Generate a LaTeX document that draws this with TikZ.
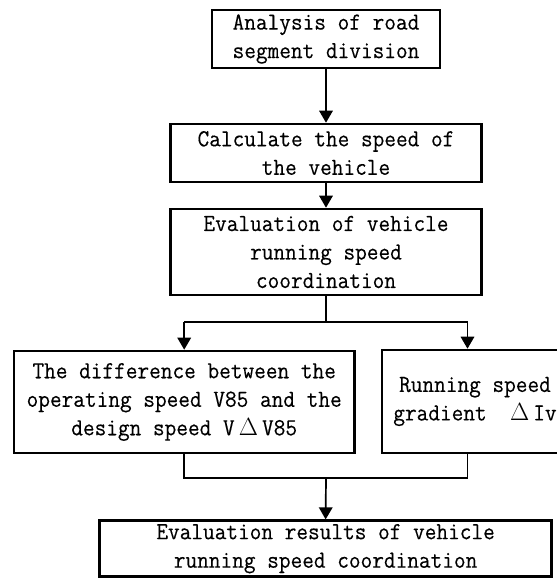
\documentclass[tikz,border=0pt]{standalone}
\usepackage{fontspec}
\setmonofont[FakeBold=0.3,FakeStretch=0.925]{Latin Modern Mono}
\usetikzlibrary{arrows.meta}
\begin{document}
\begin{tikzpicture}[x=1pt,y=-1pt,
  box/.style={draw,line width=2.6pt,inner sep=0pt,align=center,
    font=\ttfamily\fontsize{24.5}{28.5}\selectfont},
  conn/.style={line width=1.7pt},
  arr/.style={conn,-{Triangle[length=12pt,width=13.5pt]}}]
\useasboundingbox (0,0) rectangle (557,579);
\node[box,minimum width=228pt,minimum height=58pt] (b1) at (326,39)
  {Analysis of road\\segment division};
\node[box,minimum width=311.5pt,minimum height=58pt] (b2) at (326,153)
  {Calculate the speed of\\the vehicle};
\node[box,minimum width=311.5pt,minimum height=86pt] (b3) at (326,252)
  {Evaluation of vehicle\\running speed\\coordination};
\node[box,minimum width=340.5pt,minimum height=102pt] (b4) at (184.2,402)
  {The difference between the\\operating speed V85 and the\\design speed V\,$\Delta$\,V85};
\node[box,minimum width=186pt,minimum height=103pt] (b5) at (475,401.5)
  {Running speed\\gradient \ $\Delta$\,Iv};
\node[box,minimum width=452pt,minimum height=56pt] (b6) at (325.6,548.7)
  {Evaluation results of vehicle\\running speed coordination};
\draw[arr] (b1) -- (b2);
\draw[arr] (b2) -- (b3);
\coordinate (s1) at (326,322);
\coordinate (l1) at (184.2,322);
\coordinate (r1) at (467.5,322);
\coordinate (s2) at (326,478);
\coordinate (l2) at (184.2,478);
\coordinate (r2) at (467.5,478);
\draw[conn] (b3.south) -- (s1);
\draw[conn] (l1) -- (r1);
\draw[arr] (l1) -- (l1 |- b4.north);
\draw[arr] (r1) -- (r1 |- b5.north);
\draw[conn] (b4.south) -- (l2) -- (r2) -- (r2 |- b5.south);
\draw[arr] (s2) -- (b6.north);
\end{tikzpicture}
\end{document}
